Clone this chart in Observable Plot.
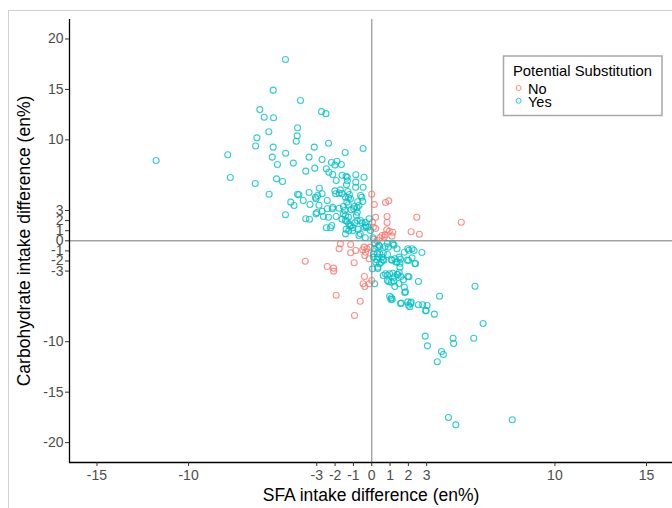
<!DOCTYPE html>
<html>
<head>
<meta charset="utf-8">
<script src="https://cdn.jsdelivr.net/npm/d3@7"></script>
<script src="https://cdn.jsdelivr.net/npm/@observablehq/plot@0.6"></script>
<style>
  html, body { margin: 0; padding: 0; background: #fff; }
  #wrap { position: relative; width: 672px; height: 508px; overflow: hidden; }
  #wrap svg { position: absolute; left: 0; top: 0; }
  #edge { position: absolute; left: 8px; top: 10px; width: 720px; height: 620px;
          border-left: 1px solid #d0d0d0; border-top: 1px solid #d0d0d0; pointer-events: none; }
</style>
</head>
<body>
<div id="wrap"><div id="edge"></div></div>
<script>
// Groups and their colours
const groups = ["No", "Yes"];
const groupColors = ["#F8766D", "#00BFC4"];
const legendTitle = "Potential Substitution";
const xTitle = "SFA intake difference (en%)";
const yTitle = "Carbohydrate intake difference (en%)";

// Axis ticks and extents
const xTicks = [-15, -10, -3, -2, -1, 0, 1, 2, 3, 10, 15];
const yTicks = [-20, -15, -10, -3, -2, -1, 0, 1, 2, 3, 10, 15, 20];
const xDomain = [-16.5, 16.42];
const yDomain = [-21.97, 21.93];

// [SFA difference, carbohydrate difference] per participant, no substitution
const noPoints = [
  [0.0,4.62],[0.75,3.8],[0.93,3.96],[0.14,3.6],[2.46,2.34],[4.89,1.84],[0.21,2.34],[0.84,2.41],
  [0.04,1.84],[0.84,1.81],[0.09,1.35],[0.21,1.22],[2.15,0.89],[2.6,0.65],[0.82,1.09],[0.96,0.95],
  [1.15,0.85],[1.1,0.46],[0.56,0.53],[0.73,0.59],[0.68,0.36],[0.44,0.3],[0.09,0.16],[0.28,0.03],
  [-1.71,-0.3],[-1.78,-0.79],[-1.15,-0.37],[-0.42,-0.63],[-0.26,-0.79],[-0.49,-0.89],[-0.87,-0.96],
  [-1.15,-1.19],[-0.33,-1.13],[-0.38,-1.46],[-0.14,-1.78],[-0.07,-0.63],[-3.63,-2.02],[-0.96,-2.18],
  [-2.43,-2.55],[-2.08,-2.71],[-2.08,-3.01],[-0.4,-3.54],[0.0,-3.93],[-0.47,-4.26],[-0.38,-4.53],
  [-0.14,-4.26],[-1.94,-5.39],[-0.63,-5.99],[-0.94,-7.4]
];

// [SFA difference, carbohydrate difference] per participant, substitution
const yesPoints = [
  [-4.71,17.97],[-5.38,14.93],[-3.89,13.9],[-6.11,13.0],[-2.74,12.8],[-2.5,12.6],[-5.87,12.25],[-5.36,12.2],
  [-4.05,11.2],[-5.62,10.8],[-6.27,10.2],[-4.07,10.4],[-4.12,9.87],[-6.34,9.4],[-5.38,9.28],[-3.14,9.28],
  [-2.36,9.67],[-0.47,9.15],[-1.45,8.75],[-4.7,8.68],[-7.86,8.52],[-11.77,7.96],[-5.43,8.29],[-3.42,8.29],
  [-2.71,8.06],[-4.28,7.7],[-5.15,7.56],[-2.2,7.76],[-1.9,7.89],[-1.66,7.56],[-2.01,7.5],[-3.11,7.2],
  [-2.48,7.14],[-3.6,6.9],[-2.13,6.57],[-1.62,6.5],[-0.87,6.54],[-1.4,6.4],[-0.42,6.3],[-7.72,6.27],
  [-5.2,6.14],[-4.87,5.88],[-1.94,5.98],[-1.33,5.95],[-0.87,5.81],[-6.36,5.68],[-1.38,5.55],[-0.47,5.31],
  [-2.86,5.21],[-5.6,4.62],[-4.05,4.62],[-3.42,4.79],[-2.71,4.66],[-2.95,4.49],[-2.01,4.95],[-1.71,5.05],
  [-1.97,4.66],[-1.78,4.72],[-1.62,4.66],[-1.31,4.89],[-1.22,4.59],[-1.27,4.26],[-0.61,4.49],[-0.54,4.32],
  [-0.49,3.9],[-0.77,3.87],[-0.94,3.4],[-1.36,3.83],[-3.04,4.16],[-3.74,3.99],[-4.42,3.83],[-4.24,3.5],
  [-3.37,3.6],[-2.88,3.53],[-2.43,3.99],[-2.13,3.33],[-2.15,3.17],[-1.78,3.23],[-1.55,3.4],[-1.47,3.0],
  [-1.12,3.07],[-0.8,3.27],[-3.0,2.8],[-3.04,2.67],[-2.71,2.93],[-2.64,2.41],[-2.36,2.34],[-1.94,2.41],
  [-1.55,2.67],[-1.43,2.51],[-1.27,2.34],[-0.84,2.51],[-4.71,2.58],[-3.6,2.18],[-3.4,2.14],[-1.62,2.14],
  [-1.36,1.94],[-1.12,1.52],[-1.03,1.29],[-1.2,1.45],[-2.48,1.29],[-2.25,1.29],[-2.18,1.52],[-1.4,1.15],
  [-1.43,0.69],[-0.75,1.15],[-0.63,0.69],[-0.42,1.35],[-0.3,1.35],[-0.21,1.35],[-0.14,2.18],[-0.35,1.84],
  [-0.61,2.01],[-0.07,1.02],[-0.35,0.3],[0.07,0.3],
  [-2.34,6.8],[-1.34,6.3],[-0.88,5.31],[-1.43,4.32],[-1.16,4.16],[-1.28,3.57],[-3.98,4.56],[-3.07,4.32],
  [-2.43,3.17],[-1.43,2.01],[-1.25,1.68],[-0.92,1.78],[-0.79,2.01],[-0.52,1.78],[-0.34,1.52],[-0.98,3.17],
  [-0.79,2.83],[-0.7,3.5],[-1.25,1.02],[-1.03,1.02],[-0.7,0.53],
  [0.16,-0.24],[0.33,-0.63],[0.44,-0.57],[0.14,-0.79],[0.73,-0.57],[0.91,-0.63],[1.15,-0.3],[1.38,-0.79],
  [1.78,-1.13],[1.97,-0.79],[2.2,-0.79],[2.31,-0.96],[2.74,-1.16],[0.09,-1.29],[0.44,-1.29],[0.63,-1.23],
  [0.86,-1.36],[0.09,-1.62],[0.33,-1.62],[0.56,-1.62],[0.23,-2.12],[0.51,-2.12],[0.28,-1.88],[0.61,-1.88],
  [1.07,-1.88],[1.26,-1.78],[1.5,-1.62],[1.33,-2.12],[1.54,-2.22],[2.01,-1.95],[2.2,-1.69],[2.36,-2.28],
  [0.04,-2.78],[0.33,-2.62],[0.42,-2.28],[1.54,-2.62],[0.63,-3.44],[0.75,-3.27],[0.98,-3.27],[1.15,-3.21],
  [1.38,-3.34],[1.5,-3.11],[1.22,-3.61],[1.59,-3.54],[1.97,-3.54],[0.86,-3.93],[1.07,-4.1],[0.16,-4.26],
  [1.73,-3.87],[2.55,-4.03],[1.26,-4.53],[1.78,-4.6],[1.8,-5.12],[5.64,-4.5],[3.7,-5.49],[0.98,-5.49],
  [1.07,-5.65],[1.05,-5.82],[1.62,-6.18],[1.97,-6.05],[2.15,-6.08],[2.01,-6.38],[2.55,-6.34],[2.78,-6.34],
  [3.02,-6.41],[2.97,-6.91],[3.42,-7.27],[6.08,-8.2],[2.92,-9.45],[3.04,-10.41],[4.44,-9.65],[4.47,-10.18],
  [5.57,-9.65],[3.81,-10.97],[3.91,-11.27],[3.58,-11.99],[4.19,-17.51],[4.59,-18.24],[7.67,-17.74],
  [0.39,-0.43],[0.85,-0.27],[1.21,-0.43],[0.3,-1.26],[0.66,-1.92],[1.12,-1.92],[1.39,-2.08],[1.57,-1.82],
  [2.03,-0.93],[1.94,-1.92],[2.39,-2.25],[0.33,-2.74],[0.85,-3.41],[1.42,-3.34],[0.93,-4.06],[1.21,-4.0],
  [1.48,-4.23],[2.03,-3.57],[1.84,-5.05],[1.12,-5.79],[1.57,-6.21],[2.12,-6.21],[2.08,-6.54],[2.94,-6.94]
];

const points = [
  ...noPoints.map(([sfa, carb]) => ({sfa, carb, group: groups[0]})),
  ...yesPoints.map(([sfa, carb]) => ({sfa, carb, group: groups[1]}))
];

const font = "'Liberation Sans', Arial, sans-serif";
const fmt = d => String(d);

const chart = Plot.plot({
  width: 672,
  height: 508,
  marginLeft: 69,
  marginRight: 0,
  marginTop: 19,
  marginBottom: 46,
  x: {domain: xDomain},
  y: {domain: yDomain},
  color: {domain: groups, range: groupColors},
  style: {fontFamily: font, fontSize: "14px", background: "transparent", overflow: "visible"},
  marks: [
    Plot.ruleX([0], {stroke: "#a3a3a3", strokeWidth: 1.4}),
    Plot.ruleY([0], {stroke: "#a3a3a3", strokeWidth: 1.4}),
    Plot.dot(points, {x: "sfa", y: "carb", stroke: "group", r: 3, strokeWidth: 1.1, strokeOpacity: 0.8}),
    Plot.ruleX([xDomain[0]], {stroke: "black", strokeWidth: 1.3}),
    Plot.ruleY([yDomain[0]], {stroke: "black", strokeWidth: 1.3}),
    Plot.axisX(xTicks, {tickSize: 4, tickPadding: 4, tickFormat: fmt, stroke: "#333", fill: "#4d4d4d", label: null}),
    Plot.axisY(yTicks, {tickSize: 4, tickPadding: 2, tickFormat: fmt, stroke: "#333", fill: "#4d4d4d", label: null}),
    Plot.text([xTitle], {text: d => d, frameAnchor: "bottom", lineAnchor: "middle", dy: 33,
                         fontSize: 17.5, fill: "black"}),
    Plot.text([yTitle], {text: d => d, frameAnchor: "left", textAnchor: "middle", lineAnchor: "middle",
                         rotate: -90, dx: -45, fontSize: 17.5, fill: "black"})
  ]
});

// Legend box in the upper right of the panel
const svg = d3.select(chart);
const lg = svg.append("g")
  .attr("font-family", font).attr("fill", "black").attr("text-anchor", "start");
lg.append("rect")
  .attr("x", 503.5).attr("y", 56).attr("width", 158.5).attr("height", 59.5)
  .attr("fill", "white").attr("stroke", "#a8a8a8").attr("stroke-width", 1.5);
lg.append("text").attr("x", 513).attr("y", 75.5).attr("font-size", 14.8).text(legendTitle);
groups.forEach((g, i) => {
  lg.append("circle")
    .attr("cx", 518.6).attr("cy", 88 + i * 12.8).attr("r", 2.5)
    .attr("fill", "none").attr("stroke", groupColors[i]).attr("stroke-width", 1).attr("stroke-opacity", 0.85);
  lg.append("text").attr("x", 528).attr("y", 94 + i * 12.6).attr("font-size", 14.5).text(g);
});

document.getElementById("wrap").prepend(chart);
</script>
</body>
</html>
